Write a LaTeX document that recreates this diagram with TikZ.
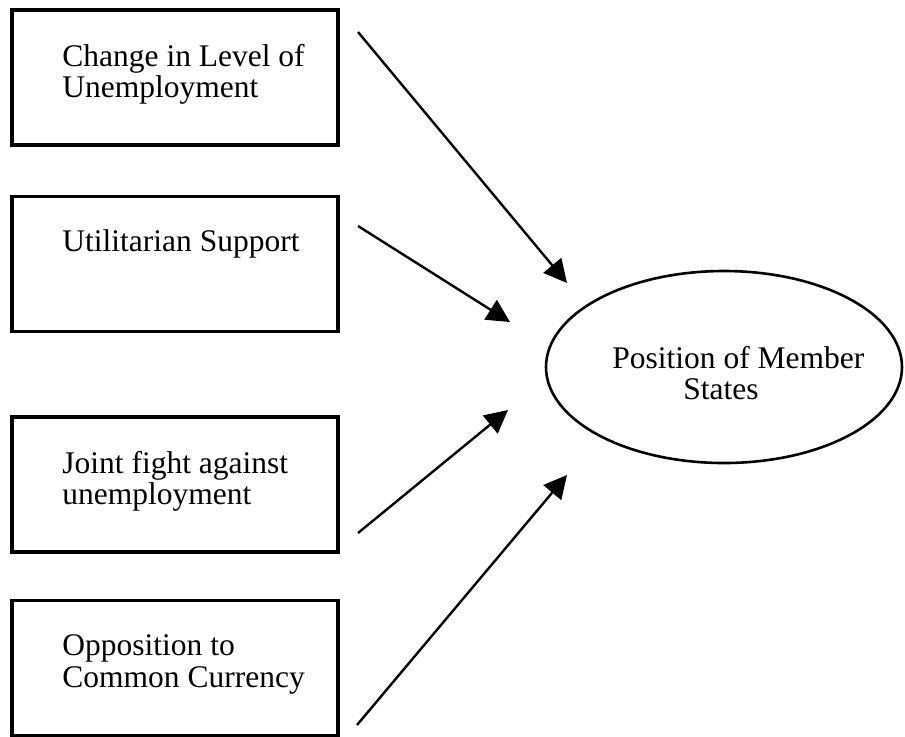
\documentclass[tikz,border=0pt]{standalone}
\usepackage{fontspec}
\setmainfont{Liberation Serif}
\usetikzlibrary{shapes.geometric,arrows.meta}

\begin{document}
\begin{tikzpicture}[x=0.5pt, y=-0.5pt,
  box/.style={draw, line width=1.6pt, minimum width=163pt, minimum height=67.5pt, inner sep=0pt},
  lbl/.style={anchor=north west, align=left, inner sep=0pt, font=\fontsize{15.75}{15.9}\selectfont},
  arr/.style={line width=1.2pt, -{Triangle[length=11.5pt,width=11.5pt]}}]

  \useasboundingbox (0,0) rectangle (905,736);

  \node[box] (unemp) at (175,77.5) {};
  \node[lbl] (unemptxt) at (62,43.5) {Change in Level of\\Unemployment};

  \node[box] (util) at (175,264) {};
  \node[lbl] (utiltxt) at (62,229.5) {Utilitarian Support};

  \node[box] (joint) at (175,484.5) {};
  \node[lbl] (jointtxt) at (62,450.5) {Joint fight against\\unemployment};

  \node[box] (curr) at (175,668) {};
  \node[lbl] (currtxt) at (62,634.5) {Opposition to\\Common Currency};

  \node[draw, ellipse, line width=1.3pt, minimum width=178pt, minimum height=96pt] (pos) at (724,367) {};
  \node[lbl] (postxt) at (612,345.5) {Position of Member\\\hspace*{35.5pt}States};

  % arrows stop short of the ellipse
  \coordinate (s1) at (358,32);  \coordinate (e1) at (567,283);
  \coordinate (s2) at (358,226); \coordinate (e2) at (510,322);
  \coordinate (s3) at (358,533); \coordinate (e3) at (508,410);
  \coordinate (s4) at (357,725); \coordinate (e4) at (567,475);

  \draw[arr] (s1) -- (e1);
  \draw[arr] (s2) -- (e2);
  \draw[arr] (s3) -- (e3);
  \draw[arr] (s4) -- (e4);

\end{tikzpicture}
\end{document}
